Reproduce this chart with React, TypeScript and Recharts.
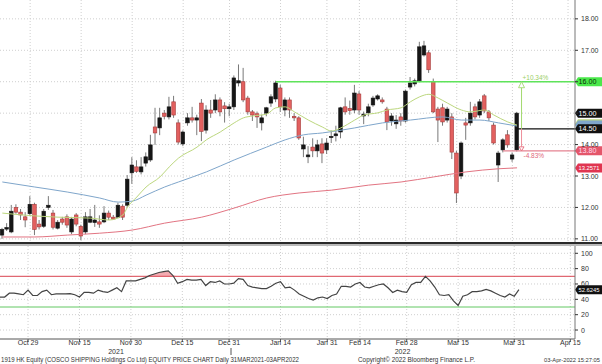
import React from 'react'
import { ComposedChart, Bar, Line, Area, XAxis, YAxis, ReferenceLine, CartesianGrid } from 'recharts'

const FONT = '"Liberation Sans", Arial, sans-serif'

// daily candles, 21 Oct 2021 .. 1 Apr 2022 (black = up, red = down)
const opens = [11.12, 11.31, 11.22, 12.0, 11.85, 11.7, 11.8, 12.1, 11.47, 11.4, 12.0, 11.82, 11.34, 11.63, 11.7, 11.22, 11.76, 11.4, 11.22, 11.53,
  11.52, 11.54, 11.54, 11.82, 11.69, 11.69, 12.04, 12.07, 13.1, 13.29, 13.13, 13.41, 13.51, 14.56, 14.53, 15.0, 14.88, 15.36, 14.69, 14.02,
  14.69, 14.85, 14.78, 15.32, 14.46, 15.1, 15.1, 15.42, 15.23, 15.14, 15.2, 15.96, 16.0, 15.48, 15.04, 14.98, 14.69, 15.0, 15.32, 15.45,
  15.8, 15.1, 15.42, 14.9, 14.85, 13.86, 13.61, 13.92, 13.8, 14.02, 13.83, 14.22, 14.28, 14.4, 15.2, 15.15, 15.1, 15.61, 14.91, 15.01,
  15.26, 15.45, 15.42, 15.13, 14.75, 14.66, 14.88, 14.75, 15.83, 15.93, 16.03, 16.85, 16.92, 16.0, 15.13, 15.17, 14.78, 14.88, 13.73, 13.0,
  14.69, 14.69, 15.2, 14.94, 15.55, 15.04, 14.62, 13.35, 13.83, 14.31, 13.54, 13.83]
const highs = [11.35, 11.5, 12.08, 12.1, 11.95, 11.85, 12.36, 12.15, 11.6, 11.95, 12.36, 11.92, 11.6, 11.7, 11.78, 11.7, 11.82, 11.45, 11.85, 11.95,
  12.08, 11.75, 12.04, 11.9, 11.76, 12.15, 12.1, 13.03, 13.6, 13.5, 13.6, 13.75, 14.31, 15.17, 15.17, 15.1, 15.52, 15.55, 14.8, 14.45,
  15.0, 15.2, 14.95, 15.45, 15.25, 15.42, 15.6, 15.5, 15.35, 15.3, 16.2, 16.55, 16.44, 15.55, 15.1, 15.05, 14.95, 15.2, 15.6, 16.03,
  15.9, 15.5, 15.5, 15.0, 14.9, 14.25, 13.95, 14.2, 14.15, 14.2, 14.2, 14.45, 14.6, 15.2, 15.5, 15.4, 15.9, 15.7, 15.05, 15.3,
  15.55, 15.6, 15.5, 15.2, 15.0, 14.94, 15.0, 15.75, 16.15, 16.1, 17.27, 17.3, 17.0, 16.1, 15.2, 15.3, 15.2, 15.0, 13.8, 14.1,
  14.85, 15.36, 15.3, 15.45, 15.61, 15.1, 14.7, 13.8, 14.2, 14.46, 13.75, 15.04]
const lows = [11.0, 11.25, 11.18, 11.8, 11.6, 11.37, 11.75, 11.12, 11.3, 11.35, 11.92, 11.3, 11.3, 11.45, 11.35, 11.15, 11.4, 10.96, 11.15, 11.5,
  11.38, 11.35, 11.5, 11.6, 11.6, 11.65, 11.6, 12.0, 12.75, 13.1, 13.05, 13.3, 13.45, 13.99, 14.3, 14.8, 14.8, 14.85, 14.0, 13.95,
  14.6, 14.7, 14.3, 14.11, 14.35, 14.85, 15.0, 14.9, 14.7, 14.9, 15.1, 15.85, 15.35, 14.95, 14.75, 14.53, 14.45, 14.9, 15.2, 15.35,
  15.04, 14.9, 14.85, 14.75, 14.15, 13.6, 13.41, 13.6, 13.6, 13.41, 13.7, 14.05, 14.1, 14.2, 14.95, 14.95, 15.0, 14.95, 14.65, 14.9,
  15.2, 15.4, 15.3, 14.46, 14.6, 14.5, 14.6, 14.7, 15.75, 15.85, 15.98, 16.8, 16.28, 15.0, 14.08, 14.6, 14.7, 13.54, 12.14, 12.9,
  14.15, 14.6, 14.8, 14.85, 15.0, 14.75, 14.0, 12.81, 13.75, 13.9, 13.45, 13.78]
const closes = [11.3, 11.36, 11.88, 11.85, 11.76, 11.6, 12.1, 11.3, 11.38, 11.88, 12.07, 11.37, 11.53, 11.53, 11.44, 11.63, 11.47, 11.09, 11.7, 11.7,
  11.6, 11.47, 11.82, 11.69, 11.63, 12.07, 11.69, 12.9, 13.35, 13.15, 13.29, 13.61, 13.99, 14.37, 14.85, 14.9, 15.2, 14.94, 14.08, 14.4,
  14.85, 14.78, 14.85, 14.42, 15.1, 15.0, 15.42, 15.04, 15.14, 15.2, 16.12, 16.03, 15.42, 15.04, 14.94, 14.88, 14.85, 15.17, 15.52, 15.96,
  15.2, 15.42, 15.1, 14.85, 14.21, 13.99, 13.67, 13.8, 13.99, 13.73, 14.05, 14.26, 14.34, 15.17, 15.04, 15.08, 15.64, 15.1, 14.97, 15.2,
  15.48, 15.55, 15.36, 14.72, 14.91, 14.78, 14.75, 15.7, 15.96, 16.03, 17.11, 17.14, 16.38, 15.04, 14.78, 14.72, 15.13, 13.76, 12.46, 14.05,
  14.62, 15.0, 14.88, 15.36, 15.07, 14.85, 14.05, 13.73, 14.15, 13.99, 13.67, 15.0]

// moving averages read at sample days: [day, value]
const maFast = [[0, 11.82], [7, 11.73], [12, 11.69], [19, 11.66], [23, 11.6], [26, 11.76], [27, 12.01], [29, 12.33], [31, 12.65], [34, 12.97],
  [36, 13.29], [38, 13.57], [42, 13.92], [44, 14.15], [47, 14.4], [50, 14.69], [52, 14.85], [54, 14.91], [57, 14.97], [59, 15.17], [61, 15.2],
  [63, 15.04], [66, 14.78], [69, 14.56], [71, 14.43], [73, 14.53], [76, 14.78], [78, 14.94], [81, 15.01], [83, 15.1], [86, 15.17], [88, 15.36],
  [90, 15.52], [92, 15.6], [94, 15.48], [96, 15.32], [99, 15.1], [101, 15.04], [104, 15.1], [106, 14.94], [109, 14.72], [111, 14.62]]
const maMid = [[0, 12.81], [7, 12.65], [14, 12.49], [21, 12.3], [25, 12.17], [28, 12.2], [31, 12.39], [35, 12.65], [38, 12.81], [44, 13.13],
  [50, 13.51], [57, 13.92], [61, 14.15], [65, 14.31], [69, 14.37], [76, 14.53], [82, 14.69], [88, 14.78], [95, 14.88], [99, 14.78], [103, 14.78],
  [107, 14.69], [111, 14.59]]
const maSlow = [[0, 11.06], [7, 11.06], [14, 11.12], [21, 11.18], [28, 11.28], [35, 11.5], [43, 11.69], [50, 11.98], [57, 12.3], [64, 12.46],
  [71, 12.55], [79, 12.71], [86, 12.81], [93, 12.97], [100, 13.13], [107, 13.23], [111, 13.26]]

const rsiValues = [43, 43, 48, 48, 47, 46, 52, 45, 45, 50, 52, 46, 47, 47, 47, 47.5, 46, 43, 49, 49,
  48, 52, 50, 49, 52, 55, 50, 64, 64, 64, 66, 68, 71, 73, 75, 76, 77, 71, 61, 63,
  66, 65, 65, 66, 58, 63, 62, 64, 60, 60, 61, 67, 66, 58, 56, 55, 54, 54, 57, 61,
  63, 55, 56, 52, 47, 44, 41, 39, 42, 43, 41, 45, 47, 57, 57, 56, 60, 62, 56, 55,
  57, 59, 60, 55, 49, 52, 50, 49, 59, 62, 62, 70, 64, 56, 46, 45, 46, 38, 32, 44,
  46, 50, 50, 51, 53, 51, 48, 45, 43, 47, 44, 52.6245]

const tickIdx = [6, 17, 28, 39, 49, 60, 70, 77, 87, 98, 110, 122]
const tickLabels = ['Oct 29', 'Nov 15', 'Nov 30', 'Dec 15', 'Dec 31', 'Jan 14', 'Jan 31', 'Feb 14', 'Feb 28', 'Mar 15', 'Mar 31', 'Apr 15']
const priceTicks = [11, 12, 13, 14, 15, 16, 17, 18]
const taggedPrices = [15, 16] // axis labels hidden behind price tags
const rsiTicks = [0, 20, 40, 60, 80, 100]
const SLOTS = 124
const LAST = closes.length - 1

const pick = (pairs, i) => {
  const f = pairs.find(p => p[0] === i)
  return f ? f[1] : null
}

const data = Array.from({ length: SLOTS }, (_, i) => {
  const has = i <= LAST
  const rsi = has ? rsiValues[i] : null
  return {
    i,
    o: has ? opens[i] : null,
    h: has ? highs[i] : null,
    l: has ? lows[i] : null,
    c: has ? closes[i] : null,
    range: has ? [lows[i], highs[i]] : null,
    maF: pick(maFast, i),
    maM: pick(maMid, i),
    maS: pick(maSlow, i),
    rsi,
    ob: rsi == null ? null : [70, Math.max(70, rsi)],
  }
})

function Candle(props) {
  const { x, y, width, height, payload } = props
  if (!payload || payload.c == null) return null
  const top = Math.min(y, y + height)
  const bot = Math.max(y, y + height)
  const span = payload.h - payload.l
  const k = span > 0 ? (bot - top) / span : 0
  const cx = x + width / 2
  const up = payload.c >= payload.o
  const bTop = top + (payload.h - Math.max(payload.o, payload.c)) * k
  const bBot = top + (payload.h - Math.min(payload.o, payload.c)) * k
  const bw = 3.6
  return (
    <g>
      <line x1={cx} x2={cx} y1={top} y2={bot} stroke="#6a6a6a" strokeWidth={0.9} />
      <rect x={cx - bw / 2} y={bTop} width={bw} height={Math.max(bBot - bTop, 0.9)}
        fill={up ? '#161616' : '#e2605f'} stroke={up ? '#161616' : '#a53a3a'} strokeWidth={0.6} />
    </g>
  )
}

function AxisText({ x, y, text, anchor = 'start', size = 7, color = '#333' }) {
  return <text x={x} y={y} textAnchor={anchor} fontSize={size} fontFamily={FONT} fill={color}>{text}</text>
}

const PriceTick = (props) => {
  const { x, y, payload } = props
  if (taggedPrices.includes(payload.value)) return null
  return <AxisText x={x + 1} y={y + 2.5} text={Number(payload.value).toFixed(2)} />
}
const RsiTick = (props) => {
  const { x, y, payload } = props
  return <AxisText x={x + 1} y={y + 2.5} text={String(payload.value)} />
}
const DateTick = (props) => {
  const { x, y, payload } = props
  const k = tickIdx.indexOf(payload.value)
  return <AxisText x={x} y={y + 0.5} anchor="middle" text={k >= 0 ? tickLabels[k] : ''} />
}

// price tag drawn at the right end of a reference line
function Tag(props) {
  const { viewBox, text, fill, color } = props
  if (!viewBox) return null
  const xr = viewBox.x + viewBox.width
  const cy = viewBox.y
  const long = text.length > 5
  return (
    <g>
      <polygon points={`${xr},${cy} ${xr + 3},${cy - 4.5} 602,${cy - 4.5} 602,${cy + 4.5} ${xr + 3},${cy + 4.5}`} fill={fill} />
      {text ? (
        <text x={xr + 3.5} y={cy + 2.5} fontSize={long ? 5.8 : 7} fontFamily={FONT} fill={color}
          textLength={long ? 21 : 18} lengthAdjust="spacingAndGlyphs">{text}</text>
      ) : null}
    </g>
  )
}

// horizontal segment stretched to the right edge of the plot
const hSeg = (stroke, w) => (p) => (
  <line x1={p.x1} y1={p.y1} x2={p.x2 + 4} y2={p.y2} stroke={stroke} strokeWidth={w} />
)

const UpArrow = (p) => {
  const x = p.x1 + 4.5
  const yt = Math.min(p.y1, p.y2)
  const yb = Math.max(p.y1, p.y2)
  return (
    <g>
      <line x1={x} x2={x} y1={yt + 6} y2={yb} stroke="#a3d96f" strokeWidth={1} />
      <polygon points={`${x},${yt} ${x - 3},${yt + 6} ${x + 3},${yt + 6}`} fill="#fff" stroke="#a3d96f" strokeWidth={0.9} />
      <text x={x + 1} y={yt - 2} fontSize={6.5} fontFamily={FONT} fill="#9ccf66">+10.34%</text>
    </g>
  )
}
const DownArrow = (p) => {
  const x = p.x1 + 4.5
  const yt = Math.min(p.y1, p.y2)
  const yb = Math.max(p.y1, p.y2)
  return (
    <g>
      <line x1={x} x2={x} y1={yt} y2={yb - 4} stroke="#ee8f9a" strokeWidth={1} />
      <polygon points={`${x},${yb} ${x - 2.5},${yb - 4} ${x + 2.5},${yb - 4}`} fill="#fff" stroke="#e56a7a" strokeWidth={0.9} />
      <text x={x + 2} y={yb + 7} fontSize={6.5} fontFamily={FONT} fill="#e0677a">-4.83%</text>
    </g>
  )
}

const maLine = (key, color) => (
  <Line key={key} dataKey={key} type="monotone" stroke={color} strokeWidth={1} dot={false} activeDot={false}
    connectNulls legendType="none" isAnimationActive={false} />
)

export default function App() {
  return (
    <div style={{ position: 'absolute', left: 0, top: 0, width: 602, height: 364, background: '#fff', overflow: 'hidden' }}>
      <div style={{ position: 'absolute', left: 0, top: 0 }}>
        <ComposedChart width={602} height={242} data={data} margin={{ top: 0, right: 0, bottom: 0, left: 0 }}>
          <CartesianGrid stroke="#cfcfcf" strokeDasharray="1 2" horizontalValues={priceTicks} verticalValues={tickIdx} />
          <XAxis dataKey="i" type="category" hide ticks={tickIdx} />
          <YAxis orientation="right" width={27} domain={[10.9, 18.6]} ticks={priceTicks} interval={0} allowDataOverflow
            tick={PriceTick} tickSize={3} tickLine={{ stroke: '#333' }} axisLine={{ stroke: '#777' }} />
          {maLine('maS', '#e27482')}
          {maLine('maM', '#7fa6cb')}
          {maLine('maF', '#bcd77e')}
          <Bar dataKey="range" barSize={4} shape={Candle} isAnimationActive={false} />
          <ReferenceLine segment={[{ x: 59, y: 16 }, { x: 123, y: 16 }]} shape={hSeg('#5fe35a', 1.6)} />
          <ReferenceLine segment={[{ x: 108, y: 13.8 }, { x: 123, y: 13.8 }]} shape={hSeg('#e58392', 1.2)} />
          <ReferenceLine segment={[{ x: LAST, y: 14.5 }, { x: 123, y: 14.5 }]} shape={hSeg('#111', 1.4)} />
          <ReferenceLine segment={[{ x: LAST, y: 14.5 }, { x: LAST, y: 16 }]} shape={UpArrow} />
          <ReferenceLine segment={[{ x: LAST, y: 14.5 }, { x: LAST, y: 13.8 }]} shape={DownArrow} />
          <ReferenceLine y={14.66} stroke="none" label={<Tag text="" fill="#bcd77e" color="#000" />} />
          <ReferenceLine y={14.62} stroke="none" label={<Tag text="" fill="#7fa6cb" color="#000" />} />
          <ReferenceLine y={14.5} stroke="none" label={<Tag text="14.50" fill="#111" color="#fff" />} />
          <ReferenceLine y={15} stroke="none" label={<Tag text="15.00" fill="#111" color="#fff" />} />
          <ReferenceLine y={13.8} stroke="none" label={<Tag text="13.80" fill="#e4566a" color="#fde" />} />
          <ReferenceLine y={13.2571} stroke="none" label={<Tag text="13.2571" fill="#e03550" color="#fff" />} />
          <ReferenceLine y={16} stroke="none" label={<Tag text="16.00" fill="#4ae84a" color="#0a2a0a" />} />
        </ComposedChart>
      </div>
      <div style={{ position: 'absolute', left: 0, top: 245 }}>
        <ComposedChart width={602} height={119} data={data} margin={{ top: 1, right: 0, bottom: 0, left: 0 }}>
          <CartesianGrid stroke="#cfcfcf" strokeDasharray="1 2" horizontalValues={rsiTicks} verticalValues={tickIdx} />
          <XAxis dataKey="i" type="category" ticks={tickIdx} interval={0} height={25} tick={DateTick}
            tickSize={3} tickLine={{ stroke: '#555' }} axisLine={{ stroke: '#555' }} />
          <YAxis orientation="right" width={27} domain={[-11.7, 109.5]} ticks={rsiTicks} interval={0} allowDataOverflow
            tick={RsiTick} tickSize={3} tickLine={{ stroke: '#333' }} axisLine={{ stroke: '#777' }} />
          <Area dataKey="ob" type="linear" fill="#f3a3aa" fillOpacity={0.9} stroke="none" activeDot={false} isAnimationActive={false} />
          <ReferenceLine y={70} stroke="#d9434f" strokeWidth={1} />
          <ReferenceLine y={30} stroke="#62c862" strokeWidth={1} />
          <Line dataKey="rsi" type="linear" stroke="#444" strokeWidth={1.2} dot={false} activeDot={false} isAnimationActive={false} />
          <ReferenceLine y={52.6245} stroke="none" label={<Tag text="52.6245" fill="#111" color="#fff" />} />
        </ComposedChart>
      </div>
      <svg width={602} height={364} style={{ position: 'absolute', left: 0, top: 0, pointerEvents: 'none' }}>
        <rect x={0} y={242} width={602} height={2} fill="#2a2a2a" />
        <rect x={0} y={244.5} width={602} height={1} fill="#777" />
        <line x1={231} x2={231} y1={348} y2={355} stroke="#555" strokeWidth={1} />
        <text x={116} y={354} textAnchor="middle" fontSize={7} fontFamily={FONT} fill="#333">2021</text>
        <text x={402.5} y={354} textAnchor="middle" fontSize={7} fontFamily={FONT} fill="#333">2022</text>
        <text x={1} y={361.5} fontSize={7} fontFamily={FONT} fill="#333" textLength={298} lengthAdjust="spacingAndGlyphs">
          1919 HK Equity (COSCO SHIPPING Holdings Co Ltd) EQUITY PRICE CHART  Daily 31MAR2021-03APR2022
        </text>
        <text x={358} y={361.5} fontSize={7} fontFamily={FONT} fill="#333" textLength={117} lengthAdjust="spacingAndGlyphs">
          Copyright© 2022 Bloomberg Finance L.P.
        </text>
        <text x={600} y={361.5} textAnchor="end" fontSize={5.5} fontFamily={FONT} fill="#333" textLength={56} lengthAdjust="spacingAndGlyphs">
          03-Apr-2022 15:27:05
        </text>
      </svg>
    </div>
  )
}
